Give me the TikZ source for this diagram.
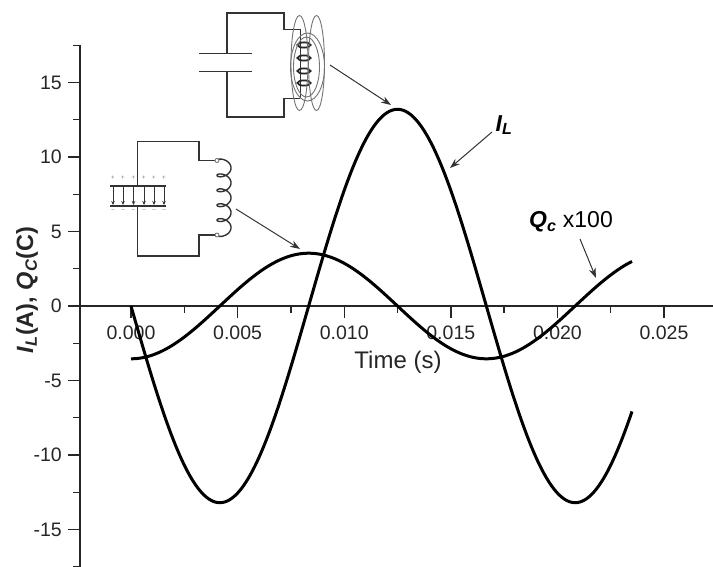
\documentclass[tikz,border=0pt]{standalone}
\usepackage{fontspec}
\setmainfont{Liberation Sans}
\usetikzlibrary{arrows.meta}
\begin{document}
\begin{tikzpicture}[x=1pt,y=-1pt,
  axisline/.style={line width=1.4pt, draw=black!85},
  curve/.style={line width=3pt, black, line join=round},
  wire/.style={line width=1.8pt, draw=black!80},
  field/.style={line width=0.9pt, draw=black!55},
  pointer/.style={line width=1pt, draw=black!80, -{Stealth[length=10pt,width=7pt]}},
  ticklab/.style={font=\fontsize{19.5}{20}\selectfont, text=black!85, inner sep=0pt},
  sign/.style={font=\fontsize{6}{6}\selectfont, text=black!55, inner sep=0pt},
]
\useasboundingbox (0,0) rectangle (713,567);
% axes
\draw[axisline] (80,45) -- (80,567);
\draw[axisline] (80,306) -- (713,306);
\foreach \v in {-15,-10,...,15} {
  \draw[axisline] (68,{306-14.9*\v}) -- (80,{306-14.9*\v});
  \node[ticklab, anchor=east] at (62,{306-14.9*\v}) {\v};
}
\foreach \v in {-17.5,-12.5,...,17.5} \draw[axisline] (73,{306-14.9*\v}) -- (80,{306-14.9*\v});
\foreach \k/\lab in {0/0.000,1/0.005,2/0.010,3/0.015,4/0.020,5/0.025} {
  \draw[axisline] ({131+106.6*\k},306) -- ({131+106.6*\k},318);
  \node[ticklab] at ({131+106.6*\k},333) {\lab};
}
\foreach \k in {0,...,5} \draw[axisline] ({184.3+106.6*\k},306) -- ({184.3+106.6*\k},313);
\node[font=\fontsize{24}{25}\selectfont, text=black!85, inner sep=0pt] (tlab) at (398,362) {Time (s)};
\node[rotate=90, font=\fontsize{23.5}{24}\selectfont\bfseries, text=black!85, inner sep=0pt] (ylab) at (27,290)
  {\textit{I}\textsubscript{\textit{L}}(A), \textit{Q}\textsubscript{\textit{C}}(C)};
% curves
\draw[curve] plot[domain=131:632, samples=240] (\x,{306+196.7*sin(1.01313*(\x-131))});
\draw[curve] plot[domain=131:632, samples=240] (\x,{306+52.8*cos(1.01313*(\x-131))});
% curve labels
\node[font=\fontsize{23}{24}\selectfont\bfseries\itshape, inner sep=0pt] (ILlab) at (504,125) {I\textsubscript{L}};
\node[font=\fontsize{23}{24}\selectfont, inner sep=0pt] (Qlab) at (571,222) {\textbf{\textit{Q}}\textsubscript{\textbf{\textit{c}}} x100};
\coordinate (ILs) at (492,132); \coordinate (ILe) at (450,168);
\coordinate (Qs) at (580,239); \coordinate (Qe) at (596,278);
\draw[pointer] (ILs) -- (ILe);
\draw[pointer] (Qs) -- (Qe);
% circuit 1
\draw[wire] (227,53.5) -- (227,13) -- (284,13) -- (284,29.5) -- (300,29.5);
\draw[wire] (227,71.5) -- (227,117) -- (284,117) -- (284,98.5) -- (300,98.5);
\draw[wire] (199,53.5) -- (252,53.5);
\draw[wire] (199,71.5) -- (252,71.5);
\draw[line width=1.2pt, draw=black!80] (300.5,29.5) -- (300.5,98.5);
\foreach \yy in {45,58,71,83} \draw[line width=1.8pt, draw=black!85] (304,\yy) ellipse (6.5 and 2.6);
\draw[field] (299.5,63) ellipse (8.5 and 47.5);
\draw[field] (316.5,63) ellipse (8 and 47.5);
\draw[field] (307.5,67) ellipse (17 and 34);
\draw[field] (306.5,67) ellipse (13 and 30);
\coordinate (c1s) at (330,65); \coordinate (c1e) at (391,105);
\draw[pointer] (c1s) -- (c1e);
% circuit 2
\draw[wire] (137.5,186) -- (137.5,141.5) -- (199,141.5) -- (199,160.5) -- (215,160.5);
\draw[wire] (137.5,206) -- (137.5,256) -- (199,256) -- (199,235) -- (215,235);
\draw[wire] (110,186) -- (166,186);
\draw[wire] (110,206) -- (166,206);
\foreach \xx in {113,123,133.5,144,154,164} {
  \draw[line width=1pt, draw=black!80, -{Stealth[length=4pt,width=3.5pt]}] (\xx,187) -- (\xx,205);
  \node[sign] at (\xx,178) {+};
  \node[sign] at (\xx,210.5) {--};
}
\draw[line width=1.4pt, draw=black!80] plot[domain=0:1800, samples=300, smooth] ({224-7*cos(\x)},{160.5+0.041389*\x-4.5*sin(\x)});
\draw[line width=0.8pt, draw=black!60, fill=white] (217,160.5) circle (2);
\draw[line width=0.8pt, draw=black!60, fill=white] (217,235) circle (2);
\coordinate (c2s) at (236,209); \coordinate (c2e) at (300,249);
\draw[pointer] (c2s) -- (c2e);
\end{tikzpicture}
\end{document}
